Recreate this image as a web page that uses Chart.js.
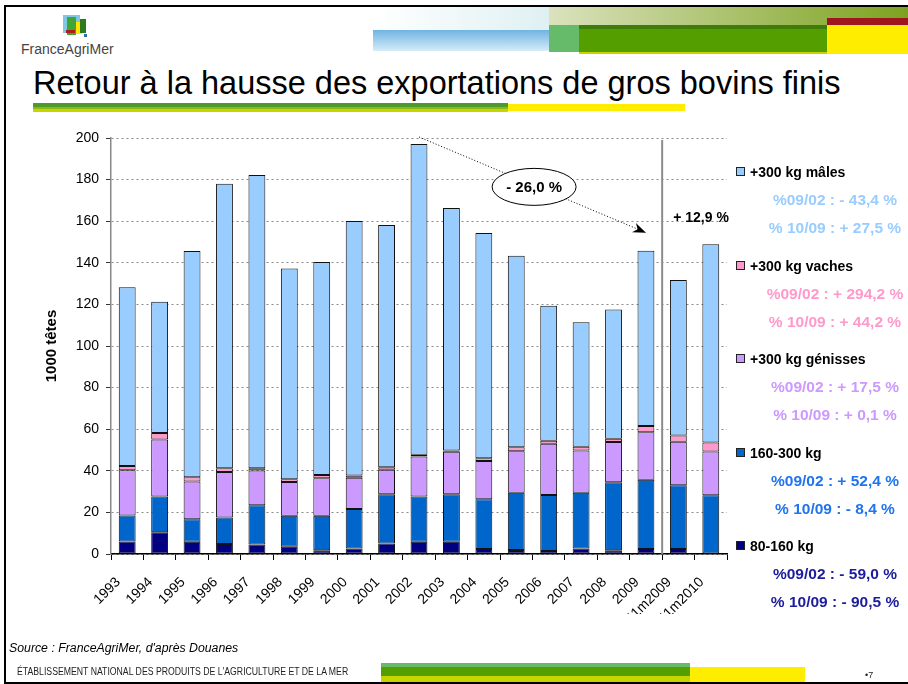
<!DOCTYPE html>
<html>
<head>
<meta charset="utf-8">
<script src="https://cdn.jsdelivr.net/npm/chart.js@4.4.0/dist/chart.umd.min.js"></script>
<style>
  body { margin: 0; width: 908px; height: 684px; position: relative; overflow: hidden; background: #fff; font-family: Arial, "Liberation Sans", sans-serif; }
  .abs { position: absolute; }
  #cadre { left: 4px; top: 5px; width: 920px; height: 675px; border: 2px solid #000; }
  #graph { position: absolute; left: 0; top: 0; }
  .leg { position: absolute; white-space: nowrap; font-weight: bold; }
  .leg.nom { font-size: 14px; line-height: 16px; color: #000; left: 750px; }
  .leg.pct { font-size: 15.5px; line-height: 18px; width: 150px; left: 760px; text-align: center; }
  .carre { position: absolute; left: 736px; width: 7px; height: 7px; border: 1px solid #222; }
</style>
</head>
<body>
<div id="cadre" class="abs"></div>

<!-- bandeau du haut -->
<div class="abs" style="left:373px;top:7px;width:176px;height:23px;background:linear-gradient(to right,#ffffff,#dff0f2)"></div>
<div class="abs" style="left:373px;top:30px;width:176px;height:21px;background:linear-gradient(to bottom,#6fb4e2,#d6ecf8)"></div>
<div class="abs" style="left:549px;top:7px;width:359px;height:18px;background:linear-gradient(to right,#dbe2bd,#7da21f)"></div>
<div class="abs" style="left:827px;top:18px;width:81px;height:7px;background:#a0161f"></div>
<div class="abs" style="left:549px;top:25px;width:30px;height:27px;background:#66bb6a"></div>
<div class="abs" style="left:579px;top:25px;width:248px;height:4px;background:#3f7d0a"></div>
<div class="abs" style="left:579px;top:29px;width:248px;height:23px;background:#559e00"></div>
<div class="abs" style="left:579px;top:52px;width:248px;height:2px;background:#c8d400"></div>
<div class="abs" style="left:827px;top:25px;width:81px;height:29px;background:#ffed00"></div>

<!-- logo -->
<div class="abs" style="left:63px;top:15px;width:17px;height:18px;background:#7ec8e3"></div>
<div class="abs" style="left:67px;top:17px;width:9px;height:18px;background:#3fa535"></div>
<div class="abs" style="left:76px;top:22px;width:6px;height:12px;background:#ffe600"></div>
<div class="abs" style="left:80px;top:19px;width:6px;height:14px;background:#2d7a1f"></div>
<div class="abs" style="left:66px;top:30px;width:9px;height:3px;background:#b01c1c"></div>
<div class="abs" style="left:84px;top:34px;width:3px;height:3px;background:#2a6fb0"></div>
<div class="abs" style="left:21px;top:41px;font-size:14px;color:#444;white-space:nowrap">FranceAgriMer</div>

<!-- titre -->
<div class="abs" style="left:33px;top:67px;font-size:32.5px;line-height:32px;color:#000;white-space:nowrap">Retour à la hausse des exportations de gros bovins finis</div>
<div class="abs" style="left:33px;top:103px;width:475px;height:4px;background:#4f9a2c"></div>
<div class="abs" style="left:33px;top:107px;width:475px;height:2px;background:#8cba12"></div>
<div class="abs" style="left:33px;top:109px;width:475px;height:3px;background:#c9d400"></div>
<div class="abs" style="left:508px;top:104px;width:177px;height:7px;background:#ffed00"></div>

<canvas id="graph" width="908" height="684"></canvas>

<div id="legende"></div>

<!-- pied de page -->
<div class="abs" style="left:9px;top:641px;font-size:12.3px;font-style:italic;color:#000;white-space:nowrap">Source : FranceAgriMer, d'après Douanes</div>
<div class="abs" style="left:17px;top:666px;font-size:10px;color:#222;white-space:nowrap;transform:scaleX(0.87);transform-origin:left top">ÉTABLISSEMENT NATIONAL DES PRODUITS DE L'AGRICULTURE ET DE LA MER</div>
<div class="abs" style="left:381px;top:663px;width:309px;height:4px;background:#66bb6a"></div>
<div class="abs" style="left:381px;top:667px;width:309px;height:9px;background:#559e00"></div>
<div class="abs" style="left:381px;top:676px;width:309px;height:6px;background:#c8d400"></div>
<div class="abs" style="left:690px;top:667px;width:115px;height:15px;background:#ffed00"></div>
<div class="abs" style="left:865px;top:670px;font-size:9px;color:#222">•7</div>

<script>
// catégories et séries (1000 têtes)
const annees = ['1993', '1994', '1995', '1996', '1997', '1998', '1999', '2000', '2001', '2002',
  '2003', '2004', '2005', '2006', '2007', '2008', '2009', '11m2009', '11m2010'];

const kg80_160 = [6, 10.4, 5.9, 4.8, 4.6, 3.5, 1.8, 2.7, 5, 5.9, 5.9, 2.4, 1.9, 1.4, 2.7, 1.8, 2.4, 2.4, 0.3];
const kg160_300 = [12.5, 17.3, 10.8, 12.8, 18.8, 14.9, 16.6, 18.9, 23.7, 21.8, 22.8, 23.9, 27.6, 27, 26.8, 32.7, 33.3, 30.6, 28];
const genisses = [21.8, 27.3, 18.1, 21.8, 16.8, 16.2, 18, 15.1, 11.8, 19.2, 20.5, 18.4, 19.9, 24.6, 20.3, 19.3, 22.8, 21, 21];
const vaches = [2, 3.2, 2.1, 1.8, 1, 1.3, 1.6, 1.1, 1.2, 0.8, 0.6, 1.3, 1.9, 1.5, 1.8, 1.6, 3, 3, 4.3];
const males = [86, 63.1, 108.8, 136.8, 141, 101.3, 102.4, 122.3, 116.5, 149.4, 116.5, 108.3, 92.1, 64.9, 59.8, 62.1, 84.3, 74.7, 95.3];

const nomsSeries = ['80-160 kg', '160-300 kg', '+300 kg génisses', '+300 kg vaches', '+300 kg mâles'];
const couleurs = ['#000080', '#0066cc', '#cc99ff', '#ff99cc', '#99ccff'];
const couleursTexte = ['#1c1c9c', '#1f74f0', '#cc99ff', '#ff99cc', '#99ccff'];
const evol0902 = ['%09/02 : - 59,0 %', '%09/02 : + 52,4 %', '%09/02 : + 17,5 %', '%09/02 : + 294,2 %', '%09/02 : - 43,4 %'];
const evol1009 = ['% 10/09 : - 90,5 %', '% 10/09 : - 8,4 %', '% 10/09 : + 0,1 %', '% 10/09 : + 44,2 %', '% 10/09 : + 27,5 %'];

const series = [kg80_160, kg160_300, genisses, vaches, males];

// légende à droite (ordre inverse de l'empilement)
const legende = document.getElementById('legende');
for (let k = 0; k < 5; k++) {
  const i = 4 - k;
  const y0 = 172 + k * 93.5;
  legende.insertAdjacentHTML('beforeend',
    `<div class="carre" style="top:${y0 - 5}px;background:${couleurs[i]}"></div>` +
    `<div class="leg nom" style="top:${y0 - 8}px">${nomsSeries[i]}</div>` +
    `<div class="leg pct" style="top:${y0 + 19}px;color:${couleursTexte[i]}">${evol0902[i]}</div>` +
    `<div class="leg pct" style="top:${y0 + 47}px;color:${couleursTexte[i]}">${evol1009[i]}</div>`);
}

// séparateur, flèche -26 % et +12,9 %
const annotations = {
  id: 'annotations',
  afterDatasetsDraw(chart) {
    const { ctx, scales: { x, y } } = chart;
    ctx.save();

    const xs = (x.getPixelForValue(16) + x.getPixelForValue(17)) / 2;
    ctx.strokeStyle = '#8c8c8c';
    ctx.lineWidth = 2;
    ctx.beginPath();
    ctx.moveTo(xs, y.getPixelForValue(199));
    ctx.lineTo(xs, y.bottom);
    ctx.stroke();

    const x1 = x.getPixelForValue(9), y1 = y.getPixelForValue(200.5);
    const x2 = x.getPixelForValue(16), y2 = y.getPixelForValue(154.5);
    ctx.strokeStyle = '#000';
    ctx.lineWidth = 1;
    ctx.setLineDash([1, 2]);
    ctx.beginPath();
    ctx.moveTo(x1, y1);
    ctx.lineTo(x2, y2);
    ctx.stroke();
    ctx.setLineDash([]);

    const ang = Math.atan2(y2 - y1, x2 - x1);
    ctx.fillStyle = '#000';
    ctx.beginPath();
    ctx.moveTo(x2, y2);
    ctx.lineTo(x2 - 13 * Math.cos(ang) + 5 * Math.sin(ang), y2 - 13 * Math.sin(ang) - 5 * Math.cos(ang));
    ctx.lineTo(x2 - 9 * Math.cos(ang), y2 - 9 * Math.sin(ang));
    ctx.lineTo(x2 - 13 * Math.cos(ang) - 5 * Math.sin(ang), y2 - 13 * Math.sin(ang) + 5 * Math.cos(ang));
    ctx.closePath();
    ctx.fill();

    const xe = x.getPixelForValue(12.55), ye = y.getPixelForValue(176.5);
    ctx.beginPath();
    ctx.ellipse(xe, ye, 42, 18.5, 0, 0, Math.PI * 2);
    ctx.fillStyle = '#fff';
    ctx.fill();
    ctx.stroke();

    ctx.fillStyle = '#000';
    ctx.font = 'bold 15px Arial';
    ctx.textAlign = 'center';
    ctx.textBaseline = 'middle';
    ctx.fillText('- 26,0 %', xe, ye + 1);

    ctx.font = 'bold 14px Arial';
    ctx.textAlign = 'left';
    ctx.fillText('+ 12,9 %', x.getPixelForValue(16.84), y.getPixelForValue(161.5));
    ctx.restore();
  }
};

new Chart(document.getElementById('graph'), {
  type: 'bar',
  data: {
    labels: annees,
    datasets: series.map((d, i) => ({
      label: nomsSeries[i],
      data: d,
      backgroundColor: couleurs[i],
      borderColor: '#111',
      borderWidth: 1,
      borderSkipped: false,
      barPercentage: 0.52,
      categoryPercentage: 1
    }))
  },
  options: {
    responsive: false,
    animation: false,
    layout: { padding: { left: 41, top: 138, right: 181, bottom: 70 } },
    plugins: { legend: { display: false }, tooltip: { enabled: false } },
    scales: {
      x: {
        stacked: true,
        afterFit: s => { s.height = 60; },
        grid: { drawOnChartArea: false, tickLength: 6, tickColor: '#000' },
        border: { color: '#000', width: 1.5 },
        ticks: { minRotation: 45, maxRotation: 45, color: '#000', font: { family: 'Arial', size: 14 }, padding: 14, labelOffset: -9 }
      },
      y: {
        stacked: true,
        min: 0,
        max: 200,
        afterFit: s => { s.width = 70; },
        grid: { color: '#8a8a8a', tickLength: 5, tickColor: '#333' },
        border: { color: '#888', width: 1.5, dash: [2, 3] },
        ticks: { stepSize: 20, color: '#000', font: { family: 'Arial', size: 14 }, padding: 7 },
        title: { display: true, text: '1000 têtes', color: '#000', font: { family: 'Arial', size: 15, weight: 'bold' }, padding: { top: 2, bottom: 0 } }
      }
    }
  },
  plugins: [annotations]
});
</script>
</body>
</html>
